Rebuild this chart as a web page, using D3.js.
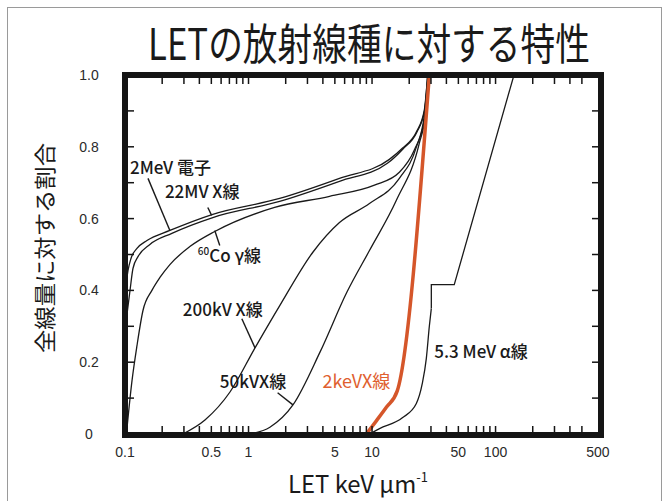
<!DOCTYPE html>
<html>
<head>
<meta charset="utf-8">
<script src="https://cdn.jsdelivr.net/npm/d3@7"></script>
<style>
  html, body { margin: 0; padding: 0; background: #fff; }
  svg { display: block; }
  text { font-family: "Liberation Sans", "Noto Sans CJK JP", sans-serif; }
  .jp { font-family: "Noto Sans CJK JP", "Noto Sans", sans-serif; }
</style>
</head>
<body>
<svg id="chart" width="666" height="501"></svg>
<script>
// ---------------- data (LET keV/µm, fraction of total dose) ----------------
const titleText = "LETの放射線種に対する特性";
const yTitleText = "全線量に対する割合";
const xTickLabels = [0.1, 0.5, 1, 5, 10, 50, 100, 500];
const xMinorTicks = [0.2,0.3,0.4,0.5,0.6,0.7,0.8,0.9,1,2,3,4,5,6,7,8,9,10,20,30,40,50,60,70,80,90,100,200,300,400,500];
const yTickLabels = [0, 0.2, 0.4, 0.6, 0.8, 1.0];
const yMinorTicks = [0.1,0.2,0.3,0.4,0.5,0.6,0.7,0.8,0.9];

const electron2MeV = [[0.1,0.39],[0.1057,0.455],[0.1118,0.489],[0.125,0.517],[0.1506,0.539],[0.2309,0.567],[0.514,0.612],[1.786,0.656],[5.45,0.712],[13.82,0.765],[17.6,0.796],[22.84,0.841],[26.5,0.902],[28.2,1.0]];
const xray22MV = [[0.1,0.29],[0.1098,0.40],[0.116,0.461],[0.1274,0.494],[0.159,0.528],[0.2396,0.559],[0.514,0.603],[1.786,0.648],[5.45,0.704],[13.32,0.754],[17.8,0.794],[23.0,0.84],[26.6,0.90],[28.2,1.0]];
const cobalt60 = [[0.104,0.02],[0.1139,0.148],[0.125,0.246],[0.1398,0.344],[0.1652,0.40],[0.1918,0.436],[0.2309,0.472],[0.335,0.522],[0.533,0.564],[1.628,0.631],[4.53,0.662],[10.46,0.693],[16.64,0.729],[22.0,0.791],[26.5,0.874],[28.5,1.0]];
const xray200kV = [[0.294,0.0],[0.444,0.039],[0.708,0.117],[1.129,0.24],[1.80,0.359],[3.33,0.507],[5.45,0.589],[9.53,0.642],[16.64,0.712],[22.84,0.799],[26.5,0.888],[28.5,1.0]];
const xray50kV = [[1.03,0.0],[1.49,0.019],[2.29,0.081],[3.79,0.228],[6.28,0.396],[9.53,0.511],[15.74,0.651],[24.15,0.81],[27.5,0.902],[28.6,1.0]];
const xray2keV = [[9.0,0.0],[10.8,0.036],[13.1,0.075],[16.0,0.12],[29.1,1.0]];
const alphaSmooth = [[9.5,0.0],[11.5,0.015],[17.6,0.045],[22.84,0.085],[25.5,0.14],[27.5,0.21],[29.1,0.30],[30.2,0.35]];
const alphaStep = [[30.2,0.35],[30.2,0.416],[46.3,0.416],[141,1.0]];

// label anchors (LET, fraction) and pointer segments
const labelItems = [
  {text: "2MeV 電子", at: [0.1098, 0.723]},
  {text: "22MV X線", at: [0.2104, 0.656]},
  {text: "200kV X線", at: [0.294, 0.33]},
  {text: "50kVX線", at: [0.585, 0.128]},
  {text: "5.3 MeV α線", at: [31.9, 0.212]}
];
const pointers = [
  [[0.1535,0.712],[0.2309,0.567]],
  [[0.468,0.631],[0.503,0.609]],
  [[0.533,0.567],[0.585,0.525]],
  [[0.883,0.321],[1.129,0.24]],
  [[1.72,0.115],[2.29,0.081]]
];

// ---------------- drawing ----------------
const svg = d3.select("#chart");
const x = d3.scaleLog().domain([0.1, 714]).range([125, 601]);
const y = d3.scaleLinear().domain([0, 1]).range([434, 75]);

// outer slide border
svg.append("rect").attr("x", 7.5).attr("y", 7.5).attr("width", 654).attr("height", 520)
  .attr("fill", "none").attr("stroke", "#9a9a9a").attr("stroke-width", 1);

// title
const title = svg.append("text").attr("class", "jp")
  .attr("x", 369).attr("y", 60).attr("text-anchor", "middle")
  .attr("font-size", 43).attr("fill", "#1a1a1a").text(titleText);
function fit(sel, target, cx) {
  const w = sel.node().getBBox().width;
  const k = target / w;
  sel.attr("transform", `translate(${cx},0) scale(${k},1) translate(${-cx},0)`);
}
fit(title, 442, 369);

const line = d3.line().x(d => x(d[0])).y(d => y(d[1])).curve(d3.curveMonotoneX);
const lineLin = d3.line().x(d => x(d[0])).y(d => y(d[1]));

const curves = svg.append("g").attr("fill", "none").attr("stroke", "#1a1a1a").attr("stroke-width", 1.3);
[electron2MeV, xray22MV, cobalt60, xray200kV, xray50kV, alphaSmooth].forEach(s => {
  curves.append("path").attr("d", line(s));
});
curves.append("path").attr("d", lineLin(alphaStep));
svg.append("path").attr("d", line(xray2keV)).attr("fill", "none")
  .attr("stroke", "#d5562a").attr("stroke-width", 3.5);

// pointers
svg.append("g").attr("stroke", "#1a1a1a").attr("stroke-width", 1.4)
  .selectAll("line").data(pointers).join("line")
  .attr("x1", d => x(d[0][0])).attr("y1", d => y(d[0][1]))
  .attr("x2", d => x(d[1][0])).attr("y2", d => y(d[1][1]));

// labels
svg.append("g").selectAll("text").data(labelItems).join("text")
  .attr("class", "jp").attr("font-size", 17).attr("font-weight", 500).attr("fill", "#1a1a1a")
  .attr("x", d => x(d.at[0])).attr("y", d => y(d.at[1])).text(d => d.text);
const co = svg.append("text").attr("class", "jp").attr("font-size", 17).attr("font-weight", 500).attr("fill", "#1a1a1a")
  .attr("x", x(0.389)).attr("y", y(0.48));
co.append("tspan").attr("font-size", 10).attr("dy", -7).text("60");
co.append("tspan").attr("dy", 7).text("Co γ線");
svg.append("text").attr("class", "jp").attr("font-size", 18).attr("fill", "#e0602f")
  .attr("x", x(3.97)).attr("y", y(0.128)).text("2keVX線");

// frame
const fx0 = x.range()[0], fx1 = x.range()[1], fy0 = 75, fy1 = 435;
svg.append("rect").attr("x", fx0).attr("y", fy0).attr("width", fx1 - fx0).attr("height", fy1 - fy0)
  .attr("fill", "none").attr("stroke", "#151515").attr("stroke-width", 6);

// inward ticks
const tk = svg.append("g").attr("stroke", "#151515").attr("stroke-width", 1.5);
tk.selectAll(".bt").data(xMinorTicks).join("line").attr("class", "bt")
  .attr("x1", d => x(d)).attr("x2", d => x(d)).attr("y1", fy1 - 3).attr("y2", fy1 - 9);
tk.selectAll(".tt").data(xMinorTicks).join("line").attr("class", "tt")
  .attr("x1", d => x(d)).attr("x2", d => x(d)).attr("y1", fy0 + 3).attr("y2", fy0 + 9);
tk.selectAll(".lt").data(yMinorTicks).join("line").attr("class", "lt")
  .attr("y1", d => y(d)).attr("y2", d => y(d)).attr("x1", fx0 + 3).attr("x2", fx0 + 9);
tk.selectAll(".rt").data(yMinorTicks).join("line").attr("class", "rt")
  .attr("y1", d => y(d)).attr("y2", d => y(d)).attr("x1", fx1 - 3).attr("x2", fx1 - 9);

// tick labels
svg.append("g").selectAll("text").data(xTickLabels).join("text")
  .attr("x", (d, i) => x(d) + (d === 500 ? 16 : 0)).attr("y", 457)
  .attr("text-anchor", "middle").attr("font-size", 14).attr("fill", "#2a2a2a")
  .text(d => d3.format("~g")(d));
svg.append("g").selectAll("text").data(yTickLabels).join("text")
  .attr("x", 89).attr("y", d => y(d) + 5)
  .attr("text-anchor", "middle").attr("font-size", 14).attr("fill", "#2a2a2a")
  .text(d => d === 0 ? "0" : d3.format(".1f")(d));

// axis titles
svg.append("text").attr("class", "jp")
  .attr("transform", "translate(43,248) rotate(-90)")
  .attr("text-anchor", "middle").attr("dominant-baseline", "central")
  .attr("font-size", 22).attr("fill", "#1a1a1a")
  .attr("textLength", 210).attr("lengthAdjust", "spacingAndGlyphs").text(yTitleText);

const xt = svg.append("text").attr("class", "jp").attr("x", 358).attr("y", 493)
  .attr("text-anchor", "middle").attr("font-size", 24).attr("fill", "#1a1a1a");
xt.append("tspan").text("LET keV");
xt.append("tspan").text(" μ");
xt.append("tspan").text("m");
xt.append("tspan").attr("font-size", 13).attr("dy", -11).text("-1");
fit(xt, 140, 358);
</script>
</body>
</html>
